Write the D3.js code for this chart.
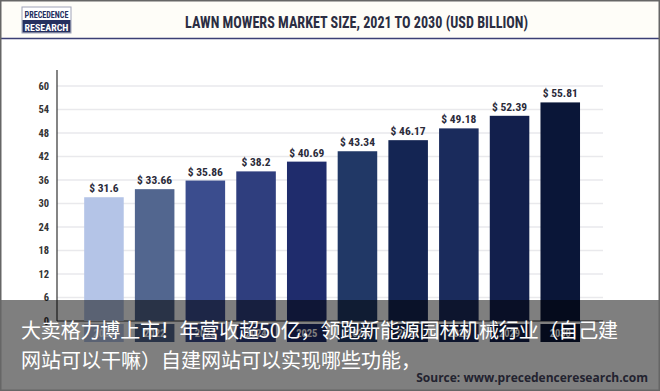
<!DOCTYPE html>
<html>
<head>
<meta charset="utf-8">
<script src="https://cdn.jsdelivr.net/npm/d3@7"></script>
<style>
html,body{margin:0;padding:0;background:#fff;}
svg{display:block;}
.cond{font-family:"Liberation Sans Narrow","Roboto Condensed","DejaVu Sans Condensed","DejaVu Sans",sans-serif;font-weight:bold;font-stretch:condensed;}
</style>
</head>
<body>
<script>
const years = ["2021","2022","2023","2024","2025","2026","2027","2028","2029","2030"];
const marketSize = [31.6, 33.66, 35.86, 38.2, 40.69, 43.34, 46.17, 49.18, 52.39, 55.81];
const barColors = ["#b4c4e7","#52668f","#3b4d8e","#2f3e7e","#1f2c6c","#213866","#142553","#1a2b5c","#121f4c","#0a1638"];
const yTicks = [0, 6, 12, 18, 24, 30, 36, 42, 48, 54, 60];
const titleText = "LAWN MOWERS MARKET SIZE, 2021 TO 2030 (USD BILLION)";
const sourceText = "Source: www.precedenceresearch.com";
const captionLines = ["大卖格力博上市！年营收超50亿，领跑新能源园林机械行业（自己建", "网站可以干嘛）自建网站可以实现哪些功能，"];

const W = 660, H = 391;
const svg = d3.select("body").append("svg").attr("width", W).attr("height", H);

svg.append("rect").attr("width", W).attr("height", H).attr("fill", "#fff");

// header
svg.append("rect").attr("x",0).attr("y",0).attr("width",W).attr("height",38).attr("fill","#fefdf8");
svg.append("line").attr("x1",0).attr("x2",W).attr("y1",38.5).attr("y2",38.5).attr("stroke","#3b3f75").attr("stroke-width",1.6);

// logo
const logo = svg.append("g");
logo.append("rect").attr("x",22).attr("y",7).attr("width",49).attr("height",26).attr("fill","#fff").attr("stroke","#a0a4b8").attr("stroke-width",1);
logo.append("rect").attr("x",22.5).attr("y",20).attr("width",48).attr("height",12.5).attr("fill","#26305f");
logo.append("text").attr("class","cond").attr("x",46.5).attr("y",17.5).attr("text-anchor","middle")
  .attr("font-size",9.5).attr("fill","#26305f").attr("textLength",44).attr("lengthAdjust","spacingAndGlyphs").text("PRECEDENCE");
logo.append("text").attr("class","cond").attr("x",46.5).attr("y",30.5).attr("text-anchor","middle")
  .attr("font-size",9.5).attr("fill","#fff").attr("textLength",44).attr("lengthAdjust","spacingAndGlyphs").text("RESEARCH");

// title
svg.append("text").attr("class","cond").attr("x",356.5).attr("y",27.5).attr("text-anchor","middle")
  .attr("font-size",17).attr("fill","#2b2d42").attr("textLength",343).attr("lengthAdjust","spacingAndGlyphs").text(titleText);

// scales
const y = d3.scaleLinear().domain([0,60]).range([321,86]);
const x = d3.scaleBand().domain(years).range([78.6,585.6]).paddingInner(0.22).paddingOuter(0.11);

// gridlines
svg.append("g").selectAll("line").data(yTicks.filter(d=>d>0)).join("line")
  .attr("x1",57).attr("x2",603).attr("y1",d=>y(d)).attr("y2",d=>y(d))
  .attr("stroke","#e9e9ec").attr("stroke-width",1.5);

// y axis
const yAxis = d3.axisLeft(y).tickValues(yTicks).tickSize(0).tickPadding(8);
const gy = svg.append("g").attr("transform","translate(57,0)").call(yAxis);
gy.select(".domain").remove();
gy.selectAll("text").attr("class","cond").attr("font-size",10.5).attr("fill","#333");
svg.append("line").attr("x1",57).attr("x2",57).attr("y1",70).attr("y2",321).attr("stroke","#333").attr("stroke-width",1.2);
svg.append("line").attr("x1",57).attr("x2",603).attr("y1",321).attr("y2",321).attr("stroke","#333").attr("stroke-width",1.2);

// bars
svg.append("g").selectAll("rect").data(marketSize).join("rect")
  .attr("x",(d,i)=>x(years[i])).attr("width",x.bandwidth())
  .attr("y",d=>y(d)).attr("height",d=>y(0)-y(d))
  .attr("fill",(d,i)=>barColors[i]);

// value labels
svg.append("g").selectAll("text").data(marketSize).join("text")
  .attr("class","cond")
  .attr("x",(d,i)=>x(years[i])+x.bandwidth()/2).attr("y",d=>y(d)-5)
  .attr("text-anchor","middle").attr("font-size",11.5).attr("fill","#2b2b3a")
  .text(d=>"$ " + d);

// x axis badges
const badges = svg.append("g");
badges.selectAll("rect").data(years).join("rect")
  .attr("x",d=>x(d)).attr("width",x.bandwidth()).attr("y",324).attr("height",18)
  .attr("fill",(d,i)=>barColors[i]);
badges.selectAll("text").data(years).join("text")
  .attr("class","cond").attr("x",d=>x(d)+x.bandwidth()/2).attr("y",337)
  .attr("text-anchor","middle").attr("font-size",10.5).attr("fill","#fff").text(d=>d);

// source
svg.append("text").attr("x",648).attr("y",382).attr("text-anchor","end")
  .attr("font-family","'Open Sans','DejaVu Sans',sans-serif").attr("font-weight","bold")
  .attr("font-size",12).attr("fill","#464660").text(sourceText);

// overlay
svg.append("rect").attr("x",0).attr("y",300).attr("width",W).attr("height",H-300).attr("fill","rgba(0,0,0,0.5)");

// caption
svg.append("g").selectAll("text").data(captionLines).join("text")
  .attr("x",21).attr("y",(d,i)=>338+i*30)
  .attr("font-family","'Noto Sans CJK SC',sans-serif").attr("font-size",20).attr("fill","#fff")
  .attr("textLength",(d,i)=>i===0?597:null)
  .text(d=>d);

// frame
svg.append("rect").attr("x",0.75).attr("y",0.75).attr("width",W-1.5).attr("height",H-1.5)
  .attr("fill","none").attr("stroke","#666").attr("stroke-width",1.5);
</script>
</body>
</html>
